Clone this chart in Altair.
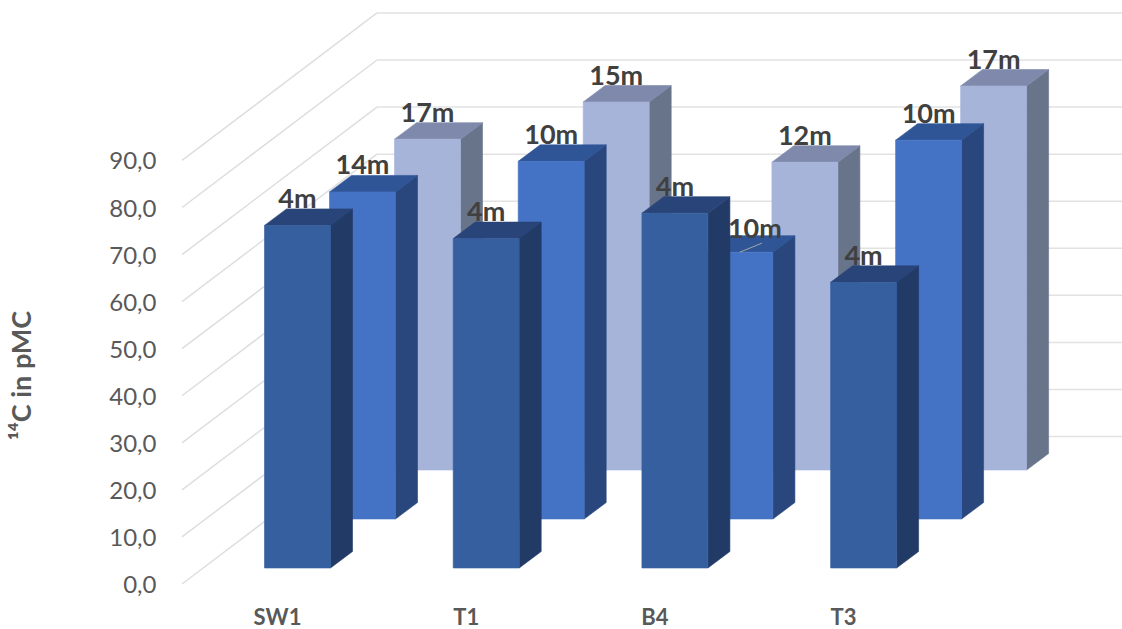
import altair as alt
import pandas as pd

# Sampling sites, and the depth series drawn from the front row to the back row
sites = ["SW1", "T1", "B4", "T3"]
depth_labels = [
    ["4m", "14m", "17m"],
    ["4m", "10m", "15m"],
    ["4m", "10m", "12m"],
    ["4m", "10m", "17m"],
]
pmc_values = [
    [72.8, 69.5, 70.3],
    [70.0, 76.0, 78.2],
    [75.4, 56.7, 65.4],
    [60.7, 80.5, 81.6],
]
y_ticks = [0, 10, 20, 30, 40, 50, 60, 70, 80, 90]

# Face colours per row: front, side, top
front_colors = ["#365F9F", "#4472C4", "#A6B4DA"]
side_colors = ["#223B66", "#29467D", "#687489"]
top_colors = ["#284478", "#2F5597", "#7F89AB"]

# Oblique projection, in axis units
PX_X = 188.7      # pixels per site
PX_Y = 4.706      # pixels per pMC
BAR_W = 66 / PX_X
BAR_START = -12.5 / PX_X
ROW_DX = 65 / PX_X
ROW_DY = 49 / PX_Y
BASE_LIFT = 16 / PX_Y
DEPTH_DX = 22 / PX_X
DEPTH_DY = 16.5 / PX_Y
WALL_DX = 195 / PX_X
WALL_DY = 147.5 / PX_Y
PLOT_W, PLOT_H = 940, 584
X_MIN = -95 / PX_X
X_DOMAIN = [X_MIN, X_MIN + PLOT_W / PX_X]
Y_DOMAIN = [0, PLOT_H / PX_Y]

x_scale = alt.Scale(domain=X_DOMAIN, nice=False, zero=False)
y_scale = alt.Scale(domain=Y_DOMAIN, nice=False, zero=False)

x_axis = alt.Axis(
    values=list(range(len(sites))), grid=False, domain=False, ticks=False, title=None,
    labelExpr="[" + ",".join(f"'{s}'" for s in sites) + "][datum.value]",
    labelFont="Lato", labelFontWeight="bold", labelFontSize=22, labelColor="#595959",
    labelPadding=23,
)
y_axis = alt.Axis(
    values=y_ticks, grid=False, domain=False, ticks=False,
    labelExpr="replace(format(datum.value, '.1f'), '.', ',')",
    labelFont="Lato", labelFontSize=24, labelColor="#595959",
    labelPadding=26, labelOffset=1.5,
    title="¹⁴C in pMC", titleFont="Lato", titleFontWeight="bold", titleFontSize=27,
    titleColor="#595959", titleX=-146, titleY=375, titleAngle=270,
)


def X(field="x"):
    return alt.X(f"{field}:Q", scale=x_scale, axis=x_axis)


def Y(field="y"):
    return alt.Y(f"{field}:Q", scale=y_scale, axis=y_axis)


# Floor diagonals and back-wall gridlines
grid = pd.DataFrame({"y": y_ticks})
grid["x0"] = X_MIN
grid["x1"] = X_MIN + WALL_DX
grid["x2"] = X_DOMAIN[1]
grid["y1"] = grid["y"] + WALL_DY
diagonals = alt.Chart(grid).mark_rule(color="#DEDEDE", strokeWidth=1.5).encode(
    x=X("x0"), x2="x1:Q", y=Y("y"), y2="y1:Q"
)
wall = alt.Chart(grid).mark_rule(color="#E2E2E2", strokeWidth=1.5).encode(
    x=X("x1"), x2="x2:Q", y=Y("y1")
)

layers = [diagonals, wall]
labels = []

# Painter's order: the back row first, so nearer bars cover it
for row in (2, 1, 0):
    fronts, sides, tops = [], [], []
    for c, site in enumerate(sites):
        value = pmc_values[c][row]
        x0 = c + BAR_START + row * ROW_DX
        x1 = x0 + BAR_W
        base = BASE_LIFT + row * ROW_DY
        top = base + value
        fronts.append({"x": x0, "x1": x1, "y": base, "y1": top})
        sides += [
            {"id": site, "x": x1, "lo": base, "hi": top},
            {"id": site, "x": x1 + DEPTH_DX, "lo": base + DEPTH_DY, "hi": top + DEPTH_DY},
        ]
        tops += [
            {"id": site, "x": x0, "lo": top, "hi": top},
            {"id": site, "x": x0 + DEPTH_DX, "lo": top, "hi": top + DEPTH_DY},
            {"id": site, "x": x1, "lo": top, "hi": top + DEPTH_DY},
            {"id": site, "x": x1 + DEPTH_DX, "lo": top + DEPTH_DY, "hi": top + DEPTH_DY},
        ]
        moved = site == "B4" and row == 1
        labels.append({
            "x": (x0 + x1) / 2 + (15 / PX_X if moved else 0),
            "y": top + DEPTH_DY - (0.6 if moved else -0.2),
            "text": depth_labels[c][row],
        })
    layers.append(
        alt.Chart(pd.DataFrame(sides))
        .mark_area(color=side_colors[row], stroke=side_colors[row], strokeWidth=0.6, orient="vertical", interpolate="linear")
        .encode(x=X(), y=Y("lo"), y2="hi:Q", detail="id:N")
    )
    layers.append(
        alt.Chart(pd.DataFrame(tops))
        .mark_area(color=top_colors[row], stroke=top_colors[row], strokeWidth=0.6, orient="vertical", interpolate="linear")
        .encode(x=X(), y=Y("lo"), y2="hi:Q", detail="id:N")
    )
    layers.append(
        alt.Chart(pd.DataFrame(fronts))
        .mark_rect(color=front_colors[row], stroke=front_colors[row], strokeWidth=0.6)
        .encode(x=X(), x2="x1:Q", y=Y(), y2="y1:Q")
    )

# Leader line tying the displaced B4 label to its bar
b4_index = sites.index("B4")
b4_x = b4_index + BAR_START + ROW_DX + BAR_W / 2
b4_top = BASE_LIFT + ROW_DY + pmc_values[b4_index][1]
leader = pd.DataFrame([{"x": b4_x, "x1": b4_x + 22 / PX_X, "y": b4_top, "y1": b4_top + 9 / PX_Y}])
layers.append(
    alt.Chart(leader).mark_rule(color="#A6A6A6", strokeWidth=1).encode(
        x=X(), x2="x1:Q", y=Y(), y2="y1:Q"
    )
)

layers.append(
    alt.Chart(pd.DataFrame(labels))
    .mark_text(font="Lato", fontWeight="bold", fontSize=27, color="#404040", baseline="alphabetic", align="center")
    .encode(x=X(), y=Y(), text="text:N")
)

chart = (
    alt.layer(*layers)
    .properties(
        width=PLOT_W, height=PLOT_H,
        padding={"left": 182, "top": 0, "right": 0, "bottom": 45},
        autosize=alt.AutoSizeParams(type="none"),
        background="white",
    )
    .configure_view(stroke=None)
)

chart.save("out.html", embed_options={"renderer": "svg", "actions": False})
